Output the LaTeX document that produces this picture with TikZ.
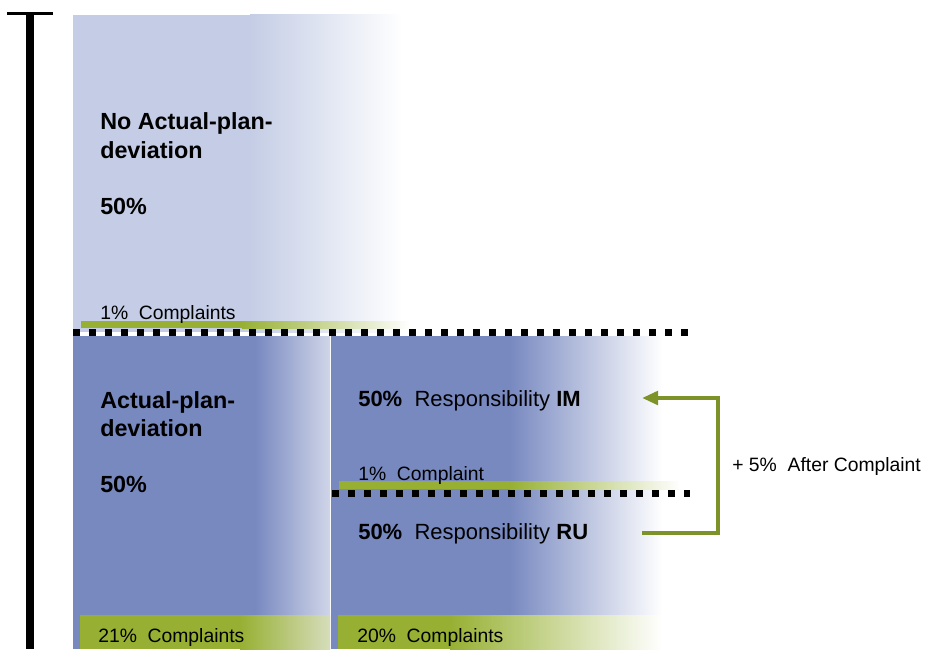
\documentclass[tikz,border=0pt]{standalone}
\usepackage{fontspec}
\setmainfont{Liberation Sans}
\usetikzlibrary{arrows.meta}
\definecolor{paleblue}{HTML}{C4CDE5}
\definecolor{midblue}{HTML}{7889C0}
\definecolor{fadeblue}{HTML}{D0D5E8}
\definecolor{bargreen}{HTML}{97B033}
\definecolor{fadegreen}{HTML}{D6DDBB}
\definecolor{arrowgreen}{HTML}{7D9229}
\begin{document}
\begin{tikzpicture}[x=0.75pt,y=-0.75pt,
    head/.style={anchor=base west,inner sep=0pt,font=\fontsize{17.5}{21}\selectfont\bfseries},
    note/.style={anchor=base west,inner sep=0pt,font=\fontsize{14.5}{17}\selectfont},
    share/.style={anchor=base west,inner sep=0pt,font=\fontsize{16.5}{19}\selectfont},
    dots/.style={line width=5.25pt,dash pattern=on 5.25pt off 6.75pt}]
  \useasboundingbox (0,0) rectangle (948,649);
  % scale on the left
  \draw[line width=5.5pt] (30,14) -- (30,649);
  \draw[line width=2.25pt] (7,14) -- (53,14);
  % blocks
  \fill[paleblue] (73,15) rectangle (251,332);
  \shade[left color=paleblue,right color=white] (250,15) rectangle (402,332);
  \fill[midblue] (73,336) rectangle (256,649);
  \shade[left color=midblue,right color=fadeblue] (255,336) rectangle (330,649);
  \fill[midblue] (331,336) rectangle (511,649);
  \shade[left color=midblue,right color=white] (510,336) rectangle (662,649);
  % complaint bars
  \fill[bargreen] (81,321) rectangle (243,328);
  \shade[left color=bargreen,right color=white] (242,321) rectangle (410,328);
  \fill[bargreen] (339,481) rectangle (511,489);
  \shade[left color=bargreen,right color=white] (510,481) rectangle (680,489);
  \fill[bargreen] (80,615) rectangle (241,649);
  \shade[left color=bargreen,right color=fadegreen] (240,615) rectangle (330,649);
  \fill[bargreen] (338,615) rectangle (451,649);
  \shade[left color=bargreen,right color=white] (450,615) rectangle (662,649);
  % borders
  \draw[dots] (73,332) -- (690,332);
  \draw[dots] (332,493) -- (690,493);
  % texts
  \node[head] (nodev1) at (100,130) {No Actual-plan-};
  \node[head] (nodev2) at (100,158) {deviation};
  \node[head] (nodevp) at (100,214) {50\%};
  \node[note] (nodevc) at (100,319) {1\%\ \ Complaints};
  \node[head] (dev1) at (100,408) {Actual-plan-};
  \node[head] (dev2) at (100,436) {deviation};
  \node[head] (devp) at (100,492) {50\%};
  \node[note] (devc) at (98,642) {21\%\ \ Complaints};
  \node[share] (im) at (358,406) {\textbf{50\%}\ \ Responsibility \textbf{IM}};
  \node[note] (imc) at (358,480) {1\%\ \ Complaint};
  \node[share] (ru) at (358,539) {\textbf{50\%}\ \ Responsibility \textbf{RU}};
  \node[note] (ruc) at (357,642) {20\%\ \ Complaints};
  \node[note] (after) at (732,471) {+ 5\%\ \ After Complaint};
  % shift of responsibility
  \coordinate (ruend) at (642,533);
  \coordinate (imend) at (642,398);
  \draw[arrowgreen,line width=3pt,-{Triangle[length=12pt,width=10pt]}]
    (ruend) -- (718,533) |- (imend);
\end{tikzpicture}
\end{document}
